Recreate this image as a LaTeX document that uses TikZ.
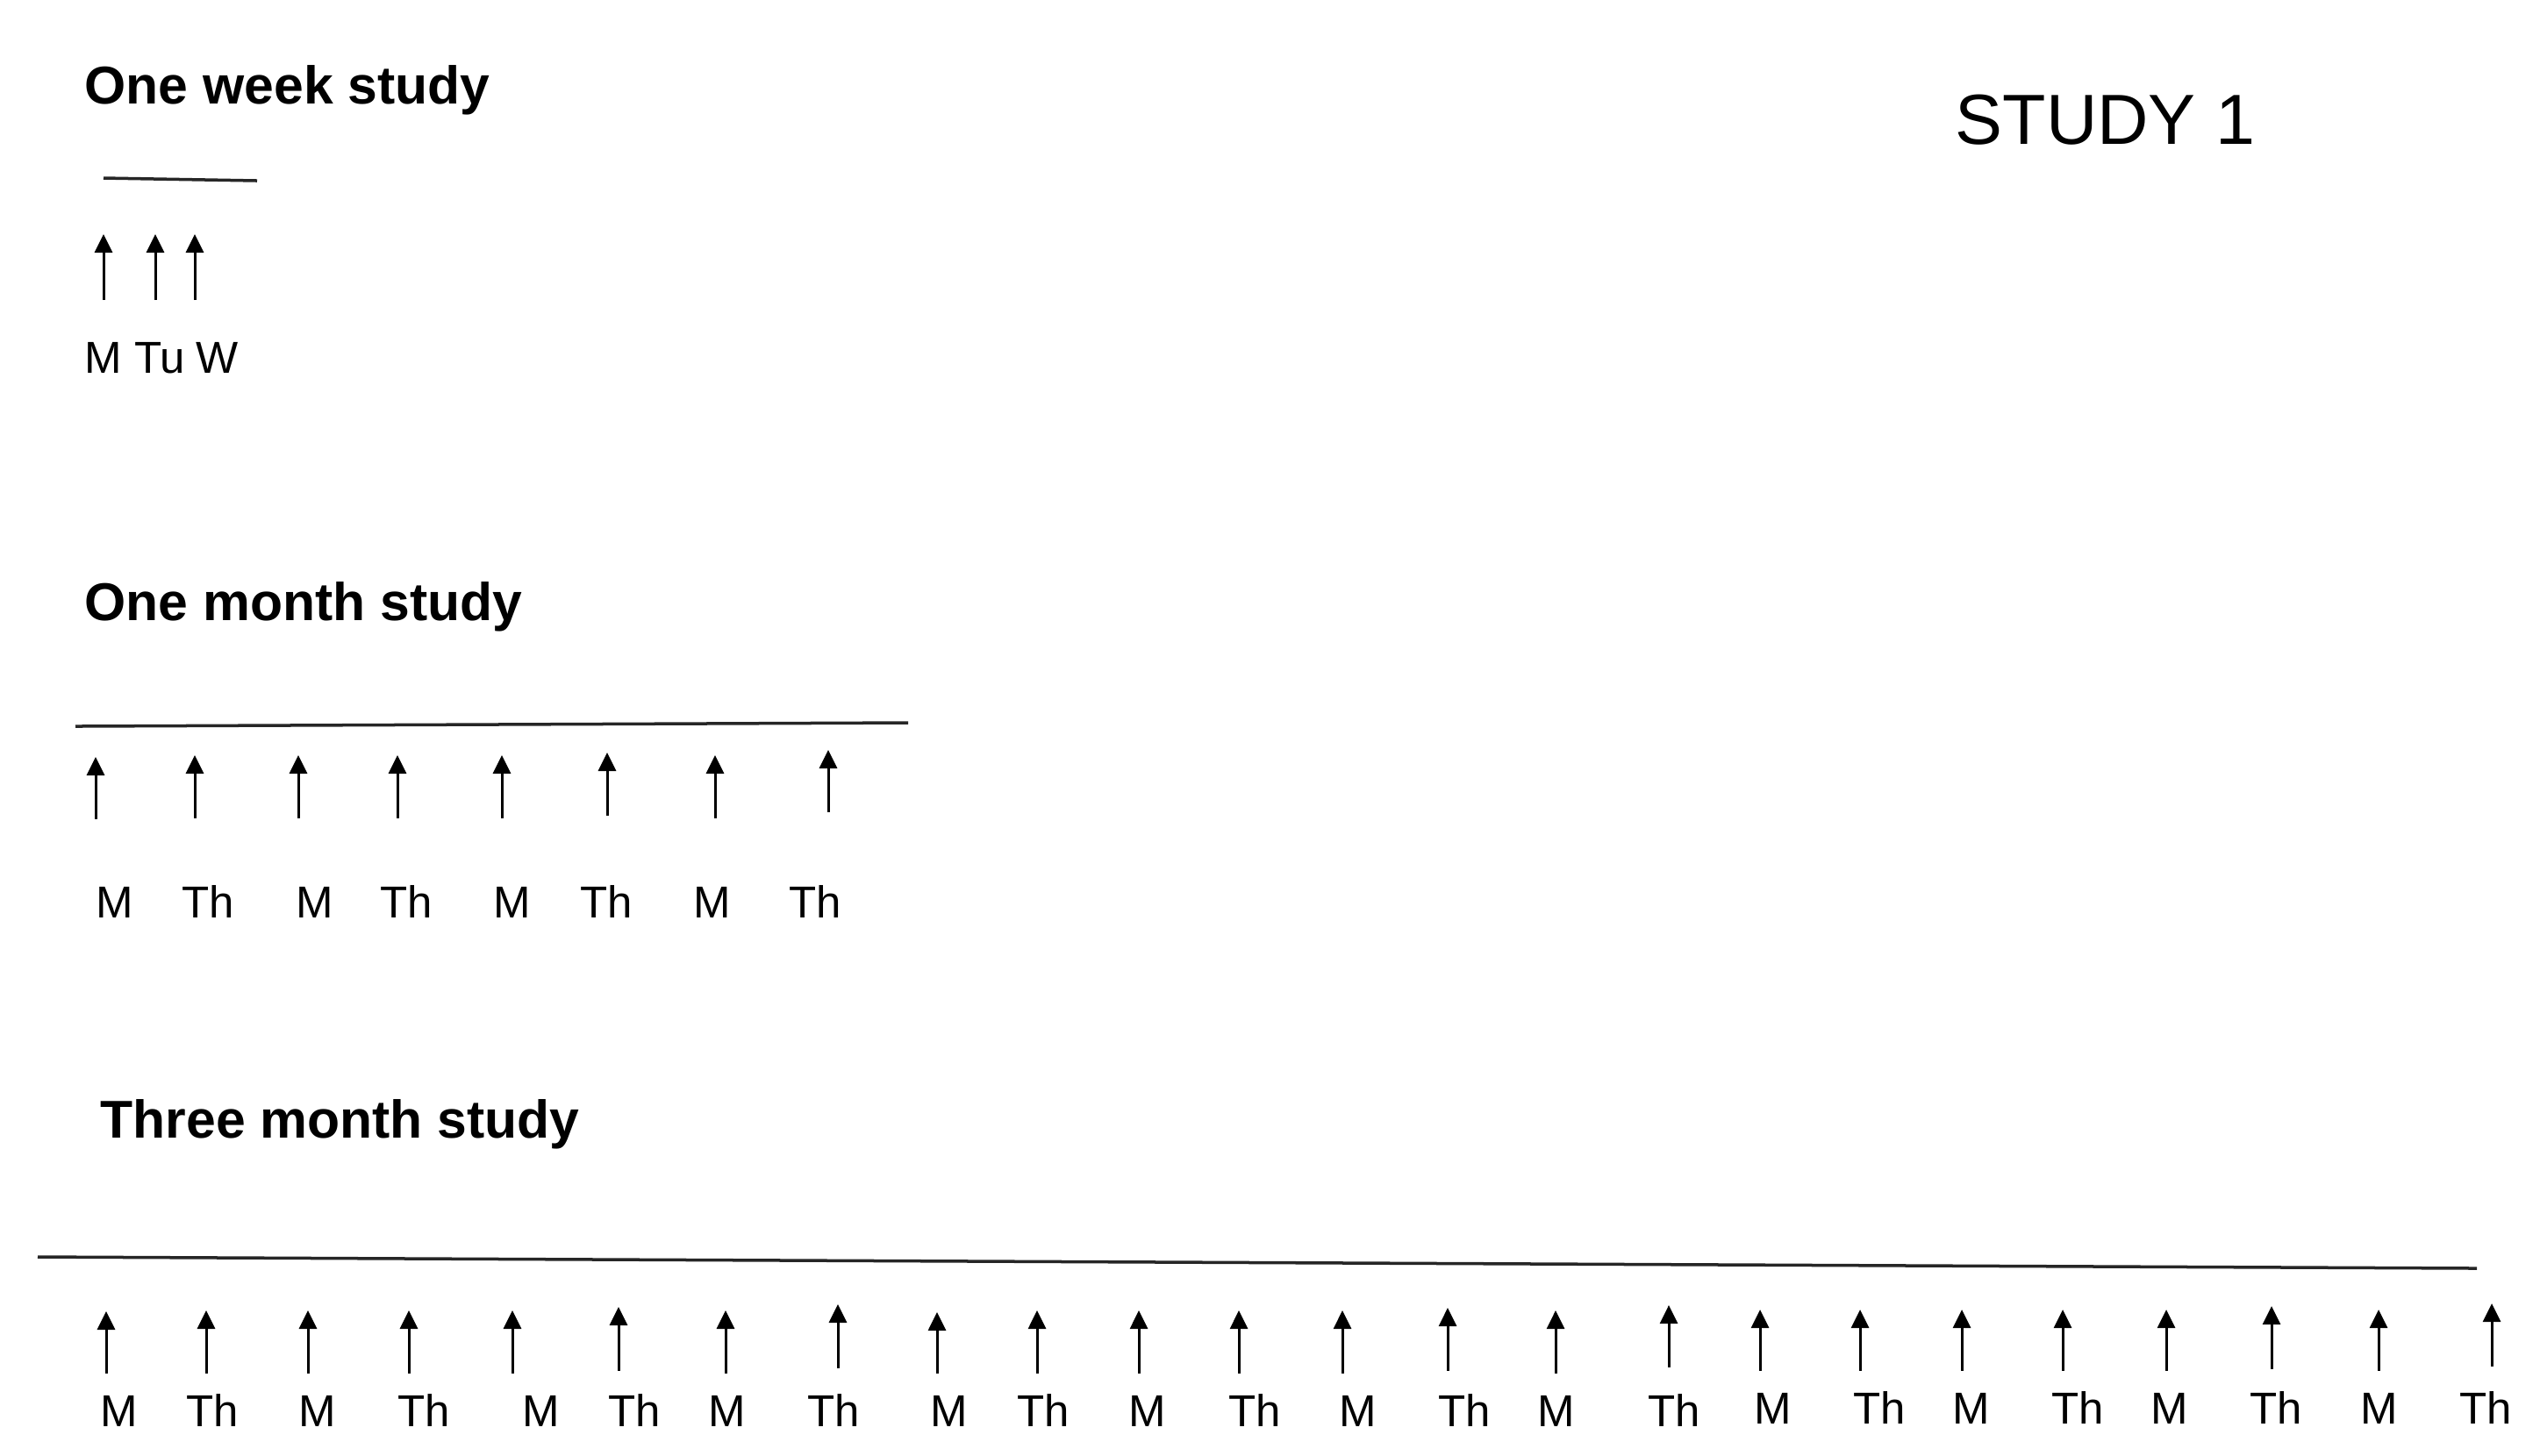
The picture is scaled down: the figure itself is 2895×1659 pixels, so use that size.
\documentclass[tikz,border=0pt]{standalone}
\usepackage{fontspec}
\setmainfont{Liberation Sans}
\usetikzlibrary{arrows.meta}
\begin{document}
\begin{tikzpicture}[x=0.01cm,y=-0.01cm,
  title/.style={font=\fontsize{17.25pt}{20pt}\selectfont\bfseries, inner sep=0, anchor=base west},
  big/.style={font=\fontsize{23.0pt}{28pt}\selectfont, inner sep=0, anchor=base west},
  day/.style={font=\fontsize{14.5pt}{17pt}\selectfont, inner sep=0, anchor=base},
  tline/.style={line width=0.035cm, black!85},
  arr/.style={line width=0.03cm, -{Triangle[width=0.2cm,length=0.21cm]}}]
\useasboundingbox (0,0) rectangle (2895,1659);
% titles
\node[title] (wk) at (96,118) {One week study};
\node[title] (mo) at (96,707) {One month study};
\node[title] (th) at (114,1297) {Three month study};
\node[big] (st) at (2228,164) {STUDY 1};
% timelines
\coordinate (wkL) at (118,203); \coordinate (wkR) at (293,206);
\draw[tline] (wkL) -- (wkR);
\coordinate (moL) at (86,828); \coordinate (moR) at (1035,824);
\draw[tline] (moL) -- (moR);
\coordinate (thL) at (43,1433); \coordinate (thR) at (2823,1446);
\draw[tline] (thL) -- (thR);
% week arrows and labels
\foreach \i/\x in {1/118,2/177,3/222}
  \draw[arr] (\x,342) coordinate (w\i b) -- (\x,267) coordinate (w\i t);
\foreach \i/\x/\l in {1/118/M,2/182/Tu,3/248/W}
  \node[day] (wl\i) at (\x,425) {\l};
% month arrows and labels
\foreach \i/\x/\t/\b in {1/109/863/934,2/222/861/933,3/340/861/933,4/453/861/933,5/572/861/933,6/692/858/930,7/815/861/933,8/944/855/926}
  \draw[arr] (\x,\b) coordinate (m\i b) -- (\x,\t) coordinate (m\i t);
\foreach \i/\x/\l in {1/131/M,2/237/Th,3/359/M,4/463/Th,5/584/M,6/691/Th,7/812/M,8/929/Th}
  \node[day] (ml\i) at (\x,1046) {\l};
% three month arrows and labels
\foreach \i/\x/\t/\b in {1/121/1495/1566,2/235/1494/1566,3/351/1494/1566,4/466/1494/1566,5/584/1494/1566,6/705/1490/1563,7/827/1494/1566,8/955/1487/1560,9/1068/1496/1566,10/1182/1494/1566,11/1298/1494/1566,12/1412/1494/1566,13/1530/1494/1566,14/1650/1491/1563,15/1773/1494/1566,16/1902/1488/1559,17/2006/1493/1563,18/2120/1493/1563,19/2236/1493/1563,20/2351/1493/1563,21/2469/1493/1563,22/2589/1489/1561,23/2711/1493/1563,24/2840/1486/1558}
  \draw[arr] (\x,\b) coordinate (t\i b) -- (\x,\t) coordinate (t\i t);
\foreach \i/\x/\y/\l in {1/136/1626/M,2/242/1626/Th,3/362/1626/M,4/483/1626/Th,5/617/1626/M,6/723/1626/Th,7/829/1626/M,8/950/1626/Th,9/1082/1626/M,10/1189/1626/Th,11/1308/1626/M,12/1430/1626/Th,13/1548/1626/M,14/1669/1626/Th,15/1774/1626/M,16/1908/1626/Th,17/2021/1623/M,18/2142/1623/Th,19/2247/1623/M,20/2368/1623/Th,21/2473/1623/M,22/2594/1623/Th,23/2712/1623/M,24/2833/1623/Th}
  \node[day] (tl\i) at (\x,\y) {\l};
\end{tikzpicture}
\end{document}
